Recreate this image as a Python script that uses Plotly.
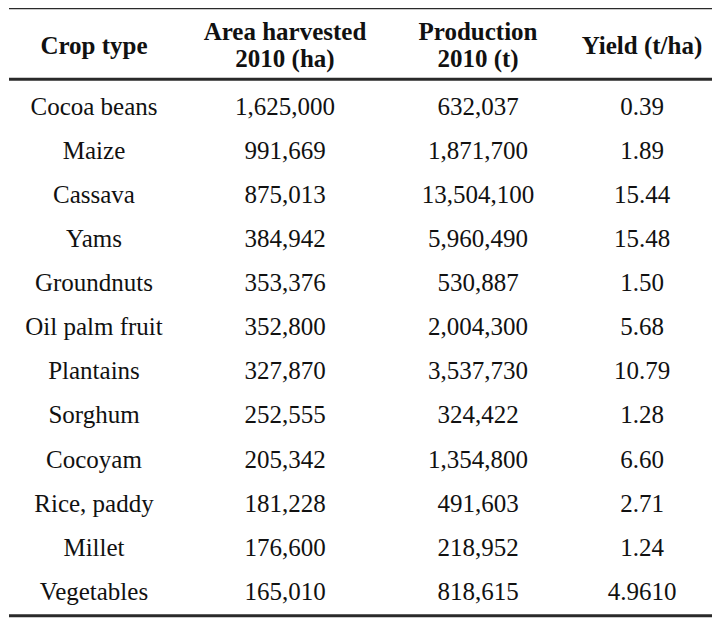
import plotly.graph_objects as go

# table data
crops = ["Cocoa beans", "Maize", "Cassava", "Yams", "Groundnuts", "Oil palm fruit",
         "Plantains", "Sorghum", "Cocoyam", "Rice, paddy", "Millet", "Vegetables"]
area_ha = ["1,625,000", "991,669", "875,013", "384,942", "353,376", "352,800",
           "327,870", "252,555", "205,342", "181,228", "176,600", "165,010"]
production_t = ["632,037", "1,871,700", "13,504,100", "5,960,490", "530,887", "2,004,300",
                "3,537,730", "324,422", "1,354,800", "491,603", "218,952", "818,615"]
yield_t_ha = ["0.39", "1.89", "15.44", "15.48", "1.50", "5.68",
              "10.79", "1.28", "6.60", "2.71", "1.24", "4.9610"]

header_top = ["", "Area harvested", "Production", ""]
header_bottom = ["", "2010 (ha)", "2010 (t)", ""]
header_single = ["Crop type", "", "", "Yield (t/ha)"]

# layout (pixel x, row-index y); page body adds an 8px offset
COL_X = [94, 285, 478, 642]
FONT = "Liberation Serif, Times New Roman, serif"
rows = list(range(len(crops)))

fig = go.Figure()

columns = [crops, area_ha, production_t, yield_t_ha]
for cx, col in zip(COL_X, columns):
    fig.add_trace(go.Scatter(
        x=[cx] * len(col), y=rows, text=col, mode="text",
        textfont=dict(family=FONT, size=25, color="#111"),
        hoverinfo="skip", showlegend=False,
    ))

for ypos, labels in [(-1.69, header_top), (-1.09, header_bottom), (-1.39, header_single)]:
    fig.add_trace(go.Scatter(
        x=COL_X, y=[ypos] * 4, text=[f"<b>{t}</b>" if t else "" for t in labels],
        mode="text", textfont=dict(family=FONT, size=25, color="#111"),
        hoverinfo="skip", showlegend=False,
    ))

# rules
for ypos, w in [(-2.277, 2), (-0.667, 3), (11.503, 3)]:
    fig.add_shape(type="line", x0=9, x1=718, y0=ypos, y1=ypos,
                  line=dict(color="#2a2a2a", width=w))

fig.update_layout(
    width=720, height=631,
    margin=dict(l=0, r=0, t=0, b=0),
    paper_bgcolor="white", plot_bgcolor="white",
    xaxis=dict(range=[8, 728], visible=False, fixedrange=True),
    yaxis=dict(range=[12.029, -2.280], visible=False, fixedrange=True),
)

fig.write_html("out.html")
